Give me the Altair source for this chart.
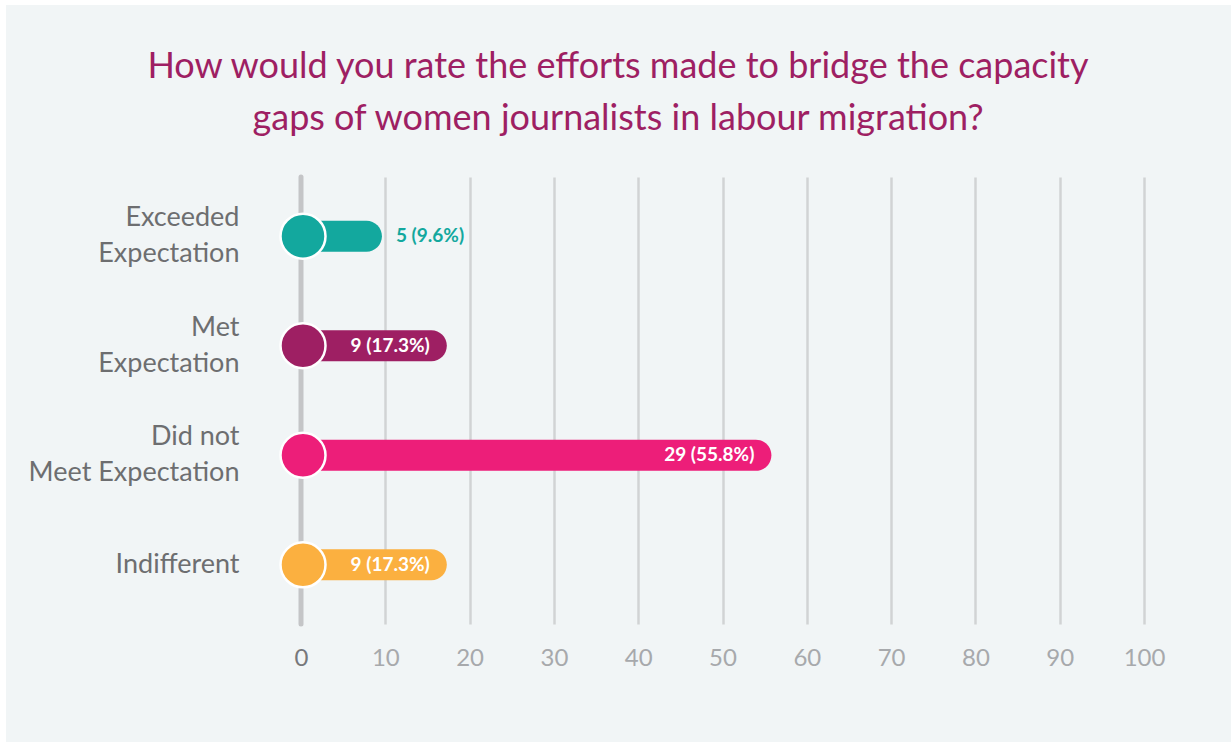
import altair as alt
import pandas as pd

# ---- data ----
categories = ["Exceeded|Expectation", "Met|Expectation", "Did not|Meet Expectation", "Indifferent"]
counts = [5, 9, 29, 9]
percents = [9.6, 17.3, 55.8, 17.3]
inside = [False, True, True, True]
colors = ["#13a89e", "#9e1f63", "#ed1e79", "#fbb040"]
x_ticks = [0, 10, 20, 30, 40, 50, 60, 70, 80, 90, 100]
title_lines = ["How would you rate the efforts made to bridge the capacity",
               "gaps of women journalists in labour migration?"]

df = pd.DataFrame({
    "cat": categories,
    "count": counts,
    "pct": percents,
    "inside": inside,
})
df["label"] = [f"{c} ({p}%)" for c, p in zip(counts, percents)]
df["zero"] = 0

FONT = "Lato"
PANEL = "#f1f5f6"

W, H = 843, 447
PAD_L, PAD_T = 301, 177
TOTAL_W, TOTAL_H = 1231, 742

yscale = alt.Scale(domain=categories, paddingInner=0, paddingOuter=0.04)
xscale = alt.Scale(domain=[0, 100], nice=False)
cscale = alt.Scale(domain=categories, range=colors)

base = alt.Chart(df)

y_enc = alt.Y("cat:N", scale=yscale, sort=categories, title=None,
              axis=alt.Axis(domain=False, ticks=False, grid=False,
                            labelExpr="split(datum.label, '|')",
                            labelFont=FONT, labelFontSize=27, labelColor="#6d6e70",
                            labelPadding=62, labelLineHeight=36,
                            labelOffset={"condition": {"test": "indexof(datum.label, '|') >= 0", "value": -18}, "value": 0},
                            labelAlign="right", labelBaseline="middle", labelLimit=400))

x_axis = alt.Axis(values=x_ticks, domain=False, ticks=False, grid=True,
                  gridColor="#d1d3d4", gridWidth=2.5,
                  gridOpacity={"condition": {"test": "datum.value == 0", "value": 0}, "value": 1},
                  labelFont=FONT, labelFontSize=24,
                  labelColor={"condition": {"test": "datum.value == 0", "value": "#77787b"}, "value": "#a7a9ac"},
                  labelPadding=22, labelFlush=False)

zero_line = alt.Chart(pd.DataFrame({"x": [0]})).mark_rule(
    color="#c4c5c7", strokeWidth=5, strokeCap="round"
).encode(x=alt.X("x:Q", scale=xscale, axis=x_axis, title=None))

bars = base.mark_bar(size=31, cornerRadiusEnd=15.5).encode(
    x=alt.X("zero:Q", scale=xscale, title=None),
    x2="pct:Q",
    y=y_enc,
    color=alt.Color("cat:N", scale=cscale, legend=None),
)

dots = base.mark_circle(size=2025, opacity=1, stroke="white", strokeWidth=2.5, xOffset=2).encode(
    x=alt.X("zero:Q", scale=xscale),
    y=alt.Y("cat:N", scale=yscale, sort=categories),
    color=alt.Color("cat:N", scale=cscale, legend=None),
)

label_in = base.transform_filter("datum.inside").mark_text(
    align="right", baseline="middle", dx=-17, font=FONT, fontSize=19,
    fontWeight="bold", color="white"
).encode(
    x=alt.X("pct:Q", scale=xscale),
    y=alt.Y("cat:N", scale=yscale, sort=categories),
    text="label:N",
)

label_out = base.transform_filter("!datum.inside").mark_text(
    align="left", baseline="middle", dx=14, font=FONT, fontSize=19, fontWeight="bold"
).encode(
    x=alt.X("pct:Q", scale=xscale),
    y=alt.Y("cat:N", scale=yscale, sort=categories),
    text="label:N",
    color=alt.Color("cat:N", scale=cscale, legend=None),
)

# chart title (two centred lines above the panel)
title = alt.Chart(pd.DataFrame({"a": [0]})).mark_text(
    text=title_lines, align="center", baseline="alphabetic", font=FONT,
    fontSize=36, color="#9e1f63", lineHeight=52
).encode(x=alt.value(618 - PAD_L), y=alt.value(78 - PAD_T))

# white page margin on top and left of the grey panel
border_top = alt.Chart(pd.DataFrame({"a": [0]})).mark_rect(color="white").encode(
    x=alt.value(-PAD_L), x2=alt.value(TOTAL_W - PAD_L),
    y=alt.value(-PAD_T), y2=alt.value(-PAD_T + 5))
border_left = alt.Chart(pd.DataFrame({"a": [0]})).mark_rect(color="white").encode(
    x=alt.value(-PAD_L), x2=alt.value(-PAD_L + 6),
    y=alt.value(-PAD_T), y2=alt.value(TOTAL_H - PAD_T))

chart = alt.layer(zero_line, bars, dots, label_in, label_out, title, border_top, border_left).properties(
    width=W, height=H,
    padding={"left": PAD_L, "top": PAD_T, "right": TOTAL_W - PAD_L - W, "bottom": TOTAL_H - PAD_T - H},
    autosize=alt.AutoSizeParams(type="none"),
    background=PANEL,
).configure_view(stroke=None)

chart.save("out.html", embed_options={"renderer": "svg", "actions": False})
